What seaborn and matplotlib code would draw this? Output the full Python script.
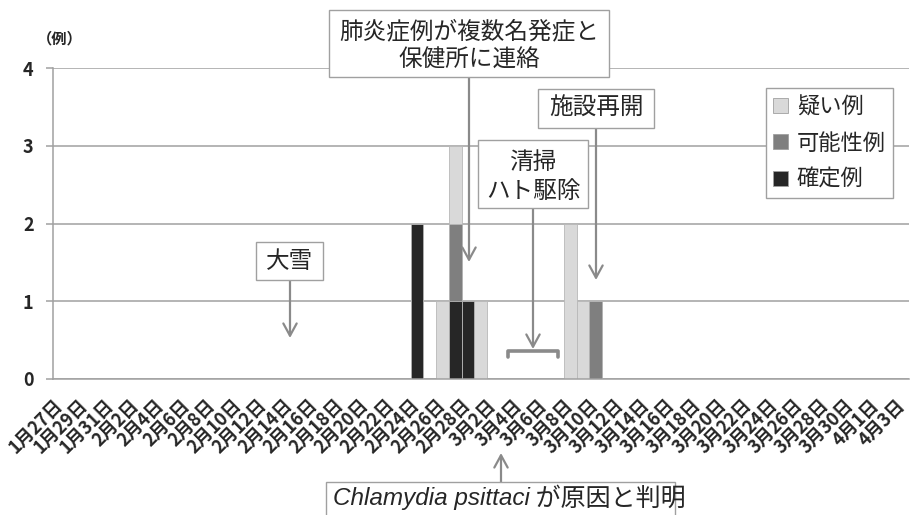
import matplotlib
matplotlib.use("Agg")
import matplotlib.pyplot as plt
import seaborn as sns
import pandas as pd
import numpy as np
from matplotlib.patches import Patch, Rectangle, FancyArrowPatch
from matplotlib.lines import Line2D

# ---------------- data ----------------
# categories: every day from 1月27日 to 4月3日
month_ranges = [(1, 27, 31), (2, 1, 28), (3, 1, 31), (4, 1, 3)]
dates = [f"{m}月{d}日" for m, d0, d1 in month_ranges for d in range(d0, d1 + 1)]
tick_labels = dates[::2]

series_names = ["疑い例", "可能性例", "確定例"]
suspected = {"2月26日": 1, "2月27日": 1, "3月1日": 1, "3月8日": 2, "3月9日": 1}
possible = {"2月27日": 1, "3月10日": 1}
confirmed = {"2月24日": 2, "2月27日": 1, "2月28日": 1}

y_ticks = [0, 1, 2, 3, 4]
y_unit = "（例）"

notes = {
    "snow": "大雪",
    "report": "肺炎症例が複数名発症と\n保健所に連絡",
    "clean": "清掃\nハト駆除",
    "reopen": "施設再開",
    "cause_latin": "Chlamydia psittaci",
    "cause_jp": " が原因と判明",
}

colors = {"疑い例": "#d9d9d9", "可能性例": "#7f7f7f", "確定例": "#262626"}

# ---------------- frame ----------------
df = pd.DataFrame({"date": dates})
df["疑い例"] = df["date"].map(suspected).fillna(0)
df["可能性例"] = df["date"].map(possible).fillna(0)
df["確定例"] = df["date"].map(confirmed).fillna(0)
df["top"] = df["疑い例"] + df["可能性例"] + df["確定例"]
df["mid"] = df["可能性例"] + df["確定例"]
df["low"] = df["確定例"]

sns.set_theme(style="white")
plt.rcParams["font.family"] = ["Noto Sans CJK JP", "DejaVu Sans"]

W, H = 913, 515
fig = plt.figure(figsize=(W / 100, H / 100), dpi=100)
ax_left, ax_right, ax_top, ax_bot = 53, 908.6, 68, 379
ax = fig.add_axes([ax_left / W, 1 - ax_bot / H, (ax_right - ax_left) / W, (ax_bot - ax_top) / H])

edge = "#b8b8b8"
for col, name in [("top", "疑い例"), ("mid", "可能性例"), ("low", "確定例")]:
    sns.barplot(data=df, x="date", y=col, order=dates, color=colors[name],
                saturation=1, width=1.0, edgecolor=edge, linewidth=0.6, ax=ax)

ax.set_xlabel("")
ax.set_ylabel("")
ax.set_xlim(-0.5, len(dates) - 0.5)
ax.set_ylim(0, 4)
ax.set_yticks(y_ticks)
ax.set_yticklabels([str(v) for v in y_ticks], fontsize=13, fontweight="bold")
gcol = "#a0a0a0"
ax.grid(axis="y", color=gcol, lw=1.1)
ax.grid(axis="x", visible=False)
ax.set_axisbelow(True)
for s in ["top", "right"]:
    ax.spines[s].set_visible(False)
for s in ["left", "bottom"]:
    ax.spines[s].set_color(gcol)
    ax.spines[s].set_linewidth(1.1)

ax.set_xticks(range(0, len(dates), 2))
ax.set_xticklabels(tick_labels, rotation=45, rotation_mode="anchor",
                   ha="right", va="center", fontsize=13, fontweight="bold")
ax.set_xticks(np.arange(-0.5, len(dates), 1), minor=True)
ax.tick_params(axis="x", which="major", length=0, pad=17)
ax.tick_params(axis="x", which="minor", length=5, width=1, color=gcol, direction="out")
ax.tick_params(axis="y", length=5, width=1.1, color=gcol, direction="out", pad=9, left=True)

# legend
handles = [Patch(facecolor=colors[n], edgecolor="#a0a0a0", lw=0.6, label=n) for n in series_names]
leg = ax.legend(handles=handles, loc="upper left",
                bbox_to_anchor=(766 / W, 1 - 88 / H), bbox_transform=fig.transFigure,
                fancybox=False, framealpha=1, edgecolor=gcol, prop={"size": 16},
                handlelength=0.65, handleheight=0.65, handletextpad=0.4,
                labelspacing=0.6, borderpad=0.33, borderaxespad=0)
leg.get_frame().set_linewidth(1.0)

# y unit
fig.text(60 / W, 1 - 38 / H, y_unit, ha="center", va="center", fontsize=11, fontweight="bold")

# ---------------- annotations ----------------
def F(x, y):
    return (x / W, 1 - y / H)

acol = "#8a8a8a"

def box(x0, y0, x1, y1):
    fig.add_artist(Rectangle(F(x0, y1), (x1 - x0) / W, (y1 - y0) / H, transform=fig.transFigure,
                             fc="white", ec=gcol, lw=1.0, zorder=5))

def arrow(x, y0, y1):
    fig.add_artist(FancyArrowPatch(F(x, y0), F(x, y1), transform=fig.transFigure,
                                   arrowstyle="->,head_length=0.55,head_width=0.3",
                                   mutation_scale=16, color=acol, lw=1.6,
                                   shrinkA=0, shrinkB=0, zorder=4))

def label(x, y, s, size=17):
    fig.text(x / W, 1 - y / H, s, ha="center", va="center", fontsize=size,
             linespacing=1.32, zorder=6)

# 大雪
box(256, 242, 323, 280)
label(289.5, 261, notes["snow"])
arrow(290, 280, 338)

# 肺炎...
box(329, 10, 609, 77)
label(469, 46, notes["report"])
arrow(469, 77, 262)

# 清掃 ハト駆除
box(478, 140, 588, 208)
label(533, 177, notes["clean"])
arrow(533, 208, 349)
fig.add_artist(Line2D([508 / W, 508 / W, 558 / W, 558 / W],
                      [1 - 357 / H, 1 - 351 / H, 1 - 351 / H, 1 - 357 / H],
                      transform=fig.transFigure, color=acol, lw=2.6,
                      solid_joinstyle="round", solid_capstyle="round", zorder=4))

# 施設再開
box(538, 89, 654, 128)
label(596, 108.5, notes["reopen"])
arrow(596, 128, 280)

# Chlamydia psittaci が原因と判明
box(326, 482, 675, 530)
arrow(501, 482, 453)
t1 = fig.text(333 / W, 1 - 499 / H, notes["cause_latin"], ha="left", va="center",
              fontsize=17.5, style="italic", family=["Liberation Sans", "DejaVu Sans"], zorder=6)
fig.canvas.draw()
bb = t1.get_window_extent()
fig.text(bb.x1 / W, 1 - 499 / H, notes["cause_jp"], ha="left", va="center",
         fontsize=18, zorder=6)

fig.savefig("out.png", dpi=100)
